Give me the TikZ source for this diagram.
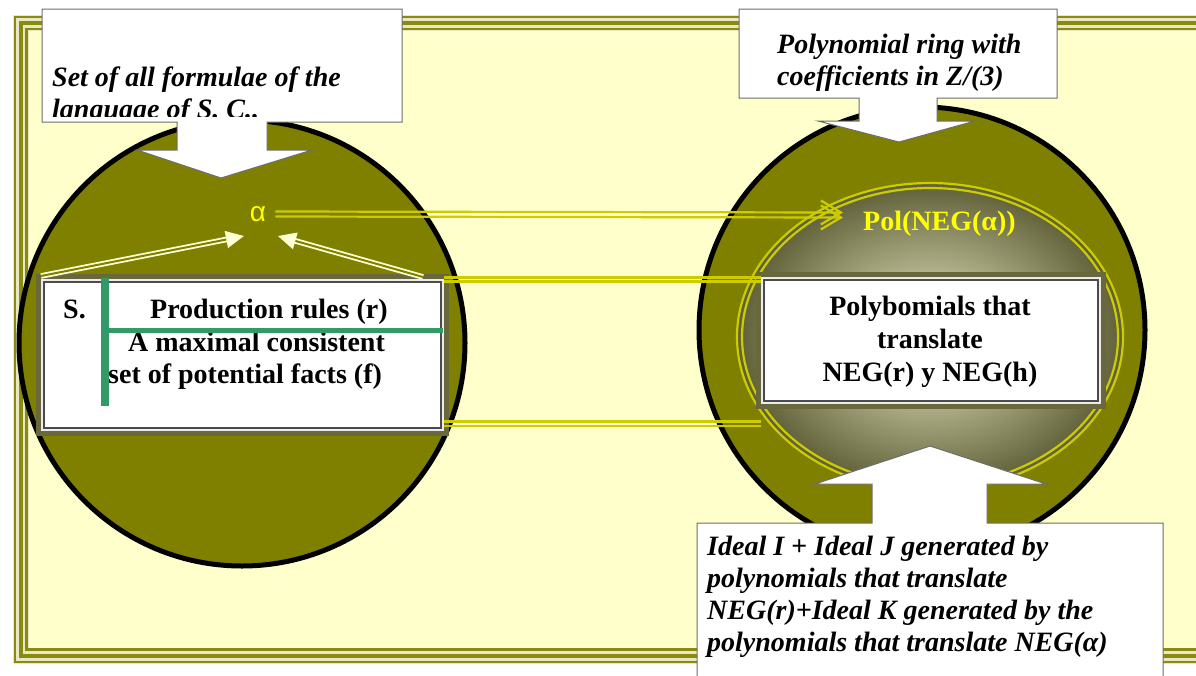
\documentclass[tikz,border=0pt]{standalone}
\usepackage{fontspec}
\setmainfont{Liberation Serif}
\newfontfamily\sansalpha{Liberation Sans}
\usetikzlibrary{arrows.meta, positioning, calc}

\definecolor{paper}{RGB}{255,255,204}
\definecolor{discolive}{RGB}{128,128,0}
\definecolor{frameolive}{RGB}{138,138,16}
\definecolor{framelight}{RGB}{232,232,196}
\definecolor{wireyellow}{RGB}{204,204,0}
\definecolor{labelyellow}{RGB}{255,255,0}
\definecolor{shadowolive}{RGB}{104,104,60}
\definecolor{rulegreen}{RGB}{51,153,102}
\definecolor{arrowcream}{RGB}{255,255,214}
\definecolor{glowlight}{RGB}{230,230,194}
\definecolor{glowmid}{RGB}{186,186,148}
\definecolor{glowdark}{RGB}{96,96,56}
\pgfdeclareradialshading{glow}{\pgfpoint{0bp}{0bp}}{color(0bp)=(glowlight); color(9bp)=(glowmid); color(25bp)=(glowdark); color(50bp)=(glowdark)}

\tikzstyle{disc} = [draw=black, line width=5, fill=discolive]
\tikzstyle{callout} = [draw=gray!85!black, line width=1, fill=white]
\tikzstyle{textbox} = [rectangle, fill=white, draw=gray!15, line width=2,
                 preaction={draw=shadowolive, line width=12}]
\tikzset{
	boxtext/.style={font=\fontsize{28}{33}\selectfont\bfseries, inner sep=0},
	notetext/.style={font=\fontsize{28}{32}\selectfont\bfseries\itshape, inner sep=0, align=left},
	wire/.style={draw=wireyellow, line width=2.2},
	feed/.style={draw=arrowcream, line width=1.8, double=discolive, double distance=2,
		-{Triangle[length=18pt, width=17pt, fill=arrowcream]}},
}

\begin{document}
\begin{tikzpicture}[x=1pt, y=-1pt]
\useasboundingbox (0,0) rectangle (1196,675);
\clip (0,0) rectangle (1196,675);
\fill[white] (0,0) rectangle (1196,675);

% frame
\fill[paper] (13,15) rectangle (1250,663);
\draw[framelight, line width=16] (20.5,23) rectangle (1240,655.5);
\foreach \d/\w in {14.5/2, 20.5/4, 26.5/2.5}
	\draw[frameolive, line width=\w] (\d,\d+2.5) rectangle (1250-\d,676-\d);

% the two discs
\draw[disc] (242,343) circle (223);
\draw[disc] (922,330) circle (223);
\shade[shading=glow] (930,337) ellipse [x radius=193, y radius=154];
\foreach \rx/\ry in {193/154, 188/149}
	\draw[wire] (930,337) ellipse [x radius=\rx, y radius=\ry];

% boxes
\node [textbox, minimum width=401, minimum height=150] at (242.5,355) (facts) {};
\draw[gray!60!black, line width=1.2] ($(facts.north west)+(3,3)$) rectangle ($(facts.south east)+(-3,-3)$);
\node [textbox, minimum width=338, minimum height=125] at (931,340.5) (polys) {};
\draw[gray!60!black, line width=1.2] ($(polys.north west)+(3,3)$) rectangle ($(polys.south east)+(-3,-3)$);

\node [boxtext, anchor=base west] at (63,318) (sdot) {S.};
\node [boxtext, anchor=base west] at (150,318) (rules) {Production rules (r)};
\node [boxtext, anchor=base west] at (128,351) (maximal) {A maximal consistent};
\node [boxtext, anchor=base west] at (108,383) (potfacts) {set of potential facts (f)};
\draw[rulegreen, line width=8] (105,278) -- (105,406);
\draw[rulegreen, line width=5] (101,330) -- (443,330);

% base of a multi-line node = its last line
\node [boxtext, align=center, anchor=base] at (930,381) (polytext) {Polybomials that\\translate\\NEG(r) y NEG(h)};

% yellow links
\foreach \s/\a in {1.5/north east, -2.5/north east, 9.5/south east, 5/south east} {
	\coordinate (w) at ([yshift=\s]facts.\a);
	\draw[wire] (w) -- (w -| polys.west);
}

\node [font=\sansalpha\fontsize{28}{28}\selectfont, text=labelyellow, inner sep=0] at (258,214) (alpha) {α};
\node [boxtext, text=labelyellow, anchor=base west] at (863,230) (pol) {Pol(NEG(α))};

\draw[feed] ([yshift=3]facts.north west) -- ([shift={(-14,22)}]alpha.center);
\draw[feed] ([shift={(-21,-2)}]facts.north east) -- ([shift={(20,22)}]alpha.center);

\coordinate (alphaout) at ($(alpha.east)+(9,0)$);
\coordinate (tip) at (843,215);
\foreach \s in {-2.5, 2.5}
	\draw[wire, -{Straight Barb[length=20pt, width=24pt]}] ([yshift=\s]alphaout) -- ([yshift=\s]tip);

% callouts
\draw[callout] (42,9) -- (402,9) -- (402,122) -- (267,122) -- (267,150) -- (312,150)
	-- (221,178) -- (137,150) -- (177,150) -- (177,122) -- (42,122) -- cycle;
\begin{scope}
\clip (43,10) rectangle (401,116);
\node [notetext, anchor=base west] at (52,118) (formulae) {Set of all formulae of the\\language of S. C..};
\end{scope}

\draw[callout] (739,9) -- (1057,9) -- (1057,98) -- (937,98) -- (937,121) -- (975,121)
	-- (899,142) -- (818,121) -- (859,121) -- (859,98) -- (739,98) -- cycle;
\node [notetext, anchor=base west] at (777,85) (ring) {Polynomial ring with\\coefficients in Z/(3)};

\draw[callout] (697,523) -- (872,523) -- (872,484) -- (815,484) -- (930,446) -- (1046,484)
	-- (987,484) -- (987,523) -- (1163,523) -- (1163,690) -- (697,690) -- cycle;
\node [notetext, anchor=base west] at (707,651) (ideals) {Ideal I + Ideal J generated by\\polynomials that translate\\NEG(r)+Ideal K generated by the\\polynomials that translate NEG(α)};

\end{tikzpicture}
\end{document}
